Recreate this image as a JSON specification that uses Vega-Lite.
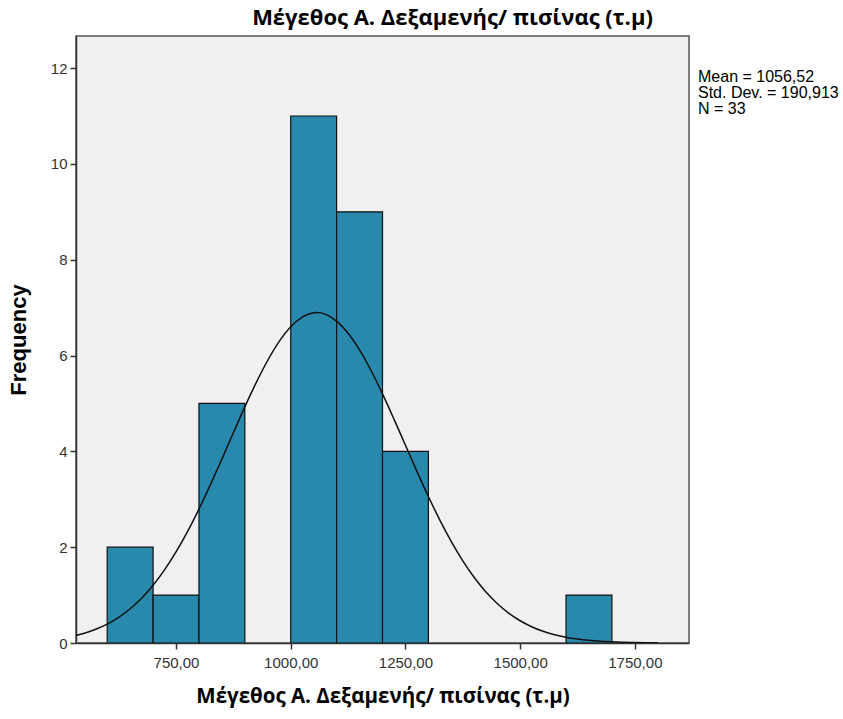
{
  "$schema": "https://vega.github.io/schema/vega-lite/v6.json",
  "width": 613,
  "height": 607,
  "background": "white",
  "padding": {"left": 7, "top": 7, "right": 5, "bottom": 5},
  "view": {"fill": "#f0f0f0", "stroke": "#555555", "strokeWidth": 1.5},
  "title": {
    "text": "Μέγεθος Α. Δεξαμενής/ πισίνας (τ.μ)",
    "font": "Open Sans",
    "fontWeight": "bold",
    "fontSize": 22,
    "color": "#000000",
    "anchor": "middle",
    "frame": "group",
    "dx": 70,
    "offset": 6
  },
  "config": {
    "view": {"fill": "#f0f0f0", "stroke": "#555555", "strokeWidth": 1.5},
    "axis": {
      "grid": false,
      "domainColor": "#333333",
      "domainWidth": 1.5,
      "tickColor": "#333333",
      "tickWidth": 1.5,
      "tickSize": 6,
      "labelFont": "Arial Narrow, Liberation Sans Narrow, Liberation Sans, Arial, sans-serif",
      "labelFontSize": 15,
      "labelColor": "#333333",
      "titleColor": "#000000"
    }
  },
  "datasets": {
    "bins": [
      {"bin_start": 600, "bin_end": 700, "count": 2},
      {"bin_start": 700, "bin_end": 800, "count": 1},
      {"bin_start": 800, "bin_end": 900, "count": 5},
      {"bin_start": 1000, "bin_end": 1100, "count": 11},
      {"bin_start": 1100, "bin_end": 1200, "count": 9},
      {"bin_start": 1200, "bin_end": 1300, "count": 4},
      {"bin_start": 1600, "bin_end": 1700, "count": 1}
    ],
    "curve": [
      {"x": 525, "y": 0.143},
      {"x": 550, "y": 0.204},
      {"x": 575, "y": 0.287},
      {"x": 600, "y": 0.395},
      {"x": 625, "y": 0.536},
      {"x": 650, "y": 0.715},
      {"x": 675, "y": 0.936},
      {"x": 700, "y": 1.206},
      {"x": 725, "y": 1.527},
      {"x": 750, "y": 1.900},
      {"x": 775, "y": 2.325},
      {"x": 800, "y": 2.796},
      {"x": 825, "y": 3.306},
      {"x": 850, "y": 3.841},
      {"x": 875, "y": 4.388},
      {"x": 900, "y": 4.928},
      {"x": 925, "y": 5.439},
      {"x": 950, "y": 5.902},
      {"x": 975, "y": 6.295},
      {"x": 1000, "y": 6.600},
      {"x": 1025, "y": 6.803},
      {"x": 1050, "y": 6.892},
      {"x": 1056.52, "y": 6.896},
      {"x": 1075, "y": 6.864},
      {"x": 1100, "y": 6.720},
      {"x": 1125, "y": 6.466},
      {"x": 1150, "y": 6.117},
      {"x": 1175, "y": 5.688},
      {"x": 1200, "y": 5.199},
      {"x": 1225, "y": 4.672},
      {"x": 1250, "y": 4.127},
      {"x": 1275, "y": 3.583},
      {"x": 1300, "y": 3.058},
      {"x": 1325, "y": 2.566},
      {"x": 1350, "y": 2.116},
      {"x": 1375, "y": 1.715},
      {"x": 1400, "y": 1.367},
      {"x": 1425, "y": 1.071},
      {"x": 1450, "y": 0.825},
      {"x": 1475, "y": 0.624},
      {"x": 1500, "y": 0.464},
      {"x": 1525, "y": 0.340},
      {"x": 1550, "y": 0.244},
      {"x": 1575, "y": 0.173},
      {"x": 1600, "y": 0.120},
      {"x": 1625, "y": 0.082},
      {"x": 1650, "y": 0.055},
      {"x": 1675, "y": 0.036},
      {"x": 1700, "y": 0.024},
      {"x": 1725, "y": 0.015},
      {"x": 1750, "y": 0.009},
      {"x": 1775, "y": 0.006},
      {"x": 1800, "y": 0.004}
    ],
    "stats": [
      {"stat": "Mean = 1056,52"},
      {"stat": "Std. Dev. = 190,913"},
      {"stat": "N = 33"}
    ]
  },
  "layer": [
    {
      "data": {"name": "bins"},
      "mark": {"type": "bar", "fill": "#2989ac", "stroke": "#111111", "strokeWidth": 1.2, "clip": true},
      "encoding": {
        "x": {
          "field": "bin_start",
          "type": "quantitative",
          "scale": {"domain": [532, 1868], "nice": false, "zero": false},
          "axis": {
            "values": [750, 1000, 1250, 1500, 1750],
            "labelExpr": "replace(format(datum.value, '.2f'), '.', ',')",
            "title": "Μέγεθος Α. Δεξαμενής/ πισίνας (τ.μ)",
            "titleFont": "Open Sans",
            "titleFontWeight": "bold",
            "titleFontSize": 20.5,
            "titlePadding": 16,
            "labelPadding": 6
          }
        },
        "x2": {"field": "bin_end"},
        "y": {
          "field": "count",
          "type": "quantitative",
          "stack": null,
          "scale": {"domain": [0, 12.67], "nice": false},
          "axis": {
            "values": [0, 2, 4, 6, 8, 10, 12],
            "title": "Frequency",
            "titleFont": "Liberation Sans",
            "titleFontWeight": "bold",
            "titleFontSize": 22,
            "titlePadding": 20,
            "labelPadding": 3
          }
        },
        "y2": {"datum": 0}
      }
    },
    {
      "data": {"name": "curve"},
      "mark": {"type": "line", "color": "#111111", "strokeWidth": 1.5, "interpolate": "monotone", "clip": true},
      "encoding": {
        "x": {"field": "x", "type": "quantitative"},
        "y": {"field": "y", "type": "quantitative"}
      }
    },
    {
      "data": {"name": "stats"},
      "mark": {"type": "point", "opacity": 0},
      "encoding": {
        "color": {
          "field": "stat",
          "type": "nominal",
          "scale": {"domain": ["Mean = 1056,52", "Std. Dev. = 190,913", "N = 33"], "range": ["#000000", "#000000", "#000000"]},
          "legend": {
            "title": null,
            "orient": "none",
            "legendX": 606,
            "legendY": 33,
            "padding": 0,
            "symbolSize": 0,
            "symbolOpacity": 0,
            "symbolStrokeWidth": 0,
            "labelOffset": 0,
            "labelFont": "Arial Narrow, Liberation Sans Narrow, Liberation Sans, Arial, sans-serif",
            "labelFontSize": 16,
            "labelColor": "#000000",
            "rowPadding": -1.5
          }
        }
      }
    }
  ]
}
